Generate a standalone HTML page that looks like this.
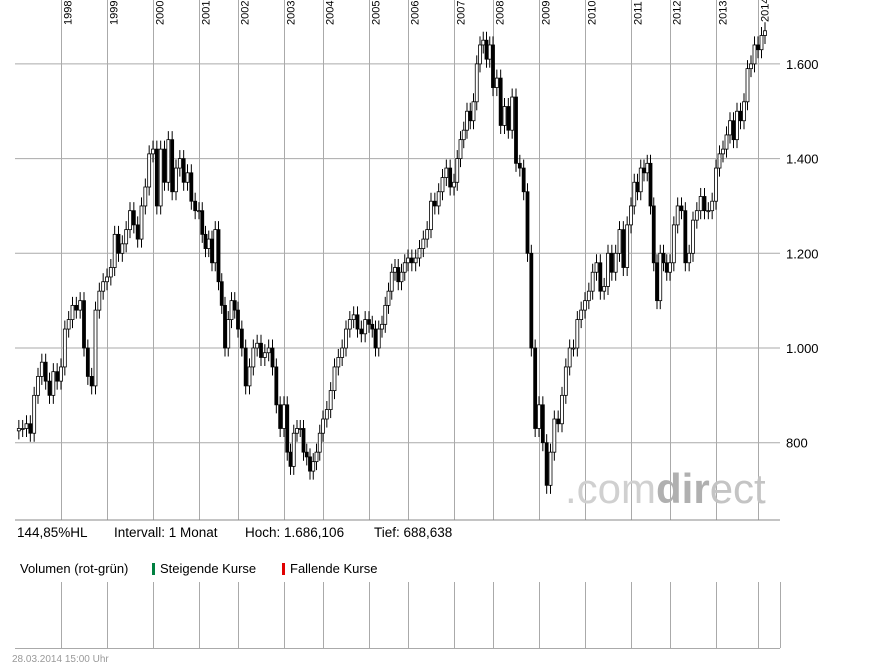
<!DOCTYPE html>
<html><head><meta charset="utf-8">
<style>
body{margin:0;background:#fff;font-family:"Liberation Sans",sans-serif;}
svg{display:block}
</style></head><body>
<svg id="chart" width="895" height="669" xmlns="http://www.w3.org/2000/svg" font-family="Liberation Sans, sans-serif">
<g id="grid"></g>
<text x="565" y="503" font-size="42"><tspan fill="#d0d0d0">.com</tspan><tspan fill="#b0b0b0" font-weight="bold">dir</tspan><tspan fill="#c4c4c4">ect</tspan></text>
<g id="candles"></g>
<g id="axis"></g>
<line x1="15" y1="520" x2="780" y2="520" stroke="#888"/>
<text x="17" y="537" font-size="13.5" fill="#000">144,85%HL</text>
<text x="114" y="537" font-size="13.5" fill="#000">Intervall: 1 Monat</text>
<text x="245" y="537" font-size="13.5" fill="#000">Hoch: 1.686,106</text>
<text x="374" y="537" font-size="13.5" fill="#000">Tief:  688,638</text>
<text x="20" y="573" font-size="13" fill="#000">Volumen (rot-grün)</text>
<rect x="152" y="563" width="3" height="12" fill="#008040"/>
<text x="160" y="573" font-size="13" fill="#000">Steigende Kurse</text>
<rect x="282" y="563" width="3" height="12" fill="#e00000"/>
<text x="290" y="573" font-size="13" fill="#000">Fallende Kurse</text>
<g id="vol"></g>
<text x="12" y="662" font-size="10" fill="#999">28.03.2014 15:00 Uhr</text>
</svg>
<script>
const years=[1998,1999,2000,2001,2002,2003,2004,2005,2006,2007,2008,2009,2010,2011,2012,2013,2014];
const yTicks=[800,1000,1200,1400,1600];
const yTickLabels=["800","1.000","1.200","1.400","1.600"];
const startOpen=825;
const closes=[
830,830,840,820,900,940,970,930,900,950,930,
960,1040,1060,1090,1080,1100,1000,940,920,1080,1120,1140,
1150,1170,1240,1200,1220,1250,1290,1260,1230,1300,1340,1410,
1420,1300,1420,1350,1440,1330,1380,1400,1350,1370,1310,1290,
1290,1240,1210,1230,1180,1250,1140,1090,1000,1060,1100,1080,
1040,1000,920,960,1000,1010,980,990,1000,960,880,830,
880,780,750,820,830,830,780,770,740,760,780,820,
850,870,910,960,980,1000,1040,1060,1070,1040,1030,1060,
1050,1040,1000,1040,1050,1090,1120,1160,1170,1140,1160,1180,
1190,1180,1190,1210,1230,1250,1310,1300,1330,1360,1380,1340,
1350,1400,1440,1460,1500,1480,1520,1600,1640,1650,1610,1640,
1550,1570,1470,1510,1460,1530,1390,1380,1330,1200,1000,830,
880,800,710,780,850,840,900,960,1000,1000,1060,1080,
1100,1120,1160,1180,1120,1130,1200,1160,1200,1250,1170,1260,
1300,1350,1330,1380,1370,1390,1300,1180,1100,1200,1180,1160,
1180,1260,1300,1290,1180,1200,1270,1290,1320,1290,1290,1310,
1380,1410,1420,1450,1480,1440,1500,1480,1520,1590,1600,1640,
1630,1660,1670];
const NS="http://www.w3.org/2000/svg";
const gridPx=[61,107,153,199,238,284,323,369,408,454,493,539,585,631,670,716,758];
function yS(v){return 348-(v-1000)*0.4735;}
function xIdx(i){
 const m=i-11;
 let yi=Math.floor(m/12), f=(m-yi*12)/12;
 if(yi<0){return gridPx[0]+m*(46/12);}
 if(yi>=gridPx.length-1){return gridPx[gridPx.length-1]+(m-192)*(42/12);}
 return gridPx[yi]+f*(gridPx[yi+1]-gridPx[yi]);
}
function mk(t,a,p){const e=document.createElementNS(NS,t);for(const k in a)e.setAttribute(k,a[k]);p.appendChild(e);return e;}
const grid=document.getElementById('grid'),axis=document.getElementById('axis'),cg=document.getElementById('candles'),vol=document.getElementById('vol');
yTicks.forEach((v,i)=>{
 const l=mk('line',{x1:15,x2:780,y1:yS(v),y2:yS(v),stroke:'#aaa'},grid);
 
 
 const t=mk('text',{x:786,y:yS(v)+5,'font-size':13,fill:'#000'},axis);
 t.textContent=yTickLabels[i];
 
 
});
years.forEach((y,k)=>{
 const x=gridPx[k]+0.5;
 const l=mk('line',{x1:x,x2:x,y1:0,y2:520,stroke:'#aaa'},grid);
 
 
 const t=mk('text',{transform:`translate(${x+10},${y==2014?22:25}) rotate(-90)`,'font-size':11,fill:'#000'},grid);
 t.textContent=y;
 
 
 const v=mk('line',{x1:x,x2:x,y1:582,y2:648,stroke:'#aaa'},vol);
 
 
});
mk('line',{x1:780.5,x2:780.5,y1:582,y2:648,stroke:'#aaa'},vol);
mk('line',{x1:15,x2:780,y1:648.5,y2:648.5,stroke:'#aaa'},vol);
let prev=startOpen;
closes.forEach((c,i)=>{
 const o=prev;prev=c;
 const x=xIdx(i);
 const hi=Math.max(o,c)+18,lo=Math.min(o,c)-18;
 const w=mk('line',{x1:x,x2:x,y1:yS(hi),y2:yS(lo),stroke:'#000'},cg);
 
 
 const top=yS(Math.max(o,c)),bot=yS(Math.min(o,c));
 const r=mk('rect',{x:x-1.5,y:top,width:3,height:Math.max(1,bot-top),fill:c>=o?'#fff':'#000',stroke:'#000','stroke-width':0.8},cg);
 
 
});
</script>
</body></html>
